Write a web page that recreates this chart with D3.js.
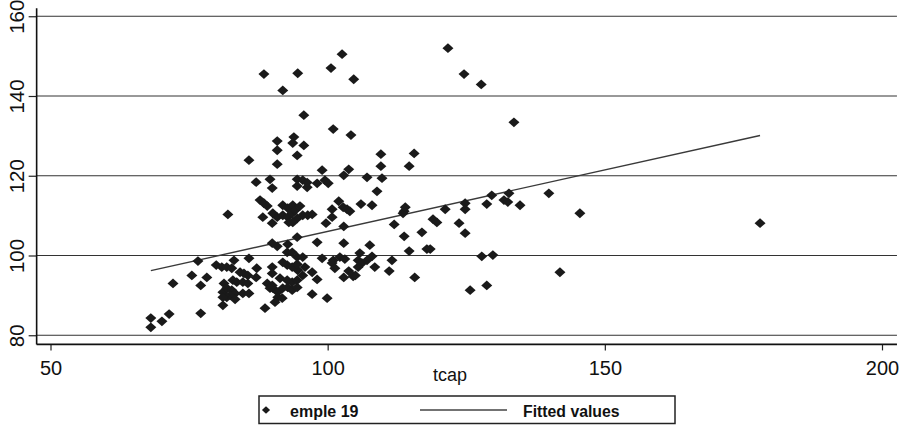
<!DOCTYPE html>
<html>
<head>
<meta charset="utf-8">
<script src="https://cdn.jsdelivr.net/npm/d3@7"></script>
<style>
  body { margin: 0; background: #fff; }
  svg { display: block; font-family: "Liberation Sans", Arial, sans-serif; }
</style>
</head>
<body>
<div id="chart"></div>
<script>
// values (tcap vs emple 19)
var tcap = [
  88.5, 94.6, 91.9, 100.6, 102.6, 104.7, 121.7, 124.6, 127.7,
  85.8, 90.9, 94.5, 90.9, 90.9, 93.9, 93.7, 95.7, 95.7, 101.0, 104.2, 99.0, 103.8, 102.9, 109.6, 109.6, 115.6, 114.7, 133.6,
  87.1, 89.6, 90.0, 94.5, 94.5, 87.8, 88.5, 89.1, 82.0, 88.3, 90.1, 90.9, 90.0, 91.9, 92.8, 93.7, 91.9, 92.8, 93.6, 94.1, 94.5, 93.0, 93.7, 94.5, 90.0, 90.9, 92.8, 92.7, 93.6,
  107.1, 109.8, 108.9, 95.5, 96.3, 96.3, 98.1, 99.5, 100.1, 102.0, 106.0, 108.0, 102.8, 103.5, 104.0, 100.8, 100.8, 99.7, 102.9, 112.0, 113.8, 113.6, 114.0, 119.0, 119.7, 113.8, 117.0, 98.1, 102.9, 107.6, 114.7, 117.9, 95.0, 95.5, 96.4, 97.2, 105.8,
  129.6, 132.7, 128.7, 131.8, 132.5, 134.7, 139.9, 145.5, 124.8, 124.8, 121.2, 123.7, 124.8, 178.0,
  127.8, 129.8, 141.9, 125.7, 128.7, 118.5,
  94.5, 95.5, 99.0, 101.0, 102.2, 103.1, 108.0, 105.5, 106.2, 107.1, 100.8, 101.3, 105.5, 108.5, 111.6, 111.1, 94.6, 95.9, 97.2, 95.5, 98.1, 102.9, 103.8, 104.6, 105.0, 97.2, 99.9, 115.7,
  68.1, 68.1, 70.1, 71.4, 72.1, 75.5, 76.6, 77.1, 77.1, 78.2, 79.9, 80.9, 81.8, 82.7, 83.1, 85.8, 84.2, 84.9, 85.6, 87.2, 90.0, 91.9, 92.7, 93.6, 94.5,
  87.1, 90.0, 91.4, 92.7, 93.6, 94.5, 81.3, 82.9, 83.6, 84.7, 85.6, 81.1, 81.8, 82.7, 83.3, 82.4, 81.8, 81.1, 84.7, 85.8, 83.3, 81.1,
  89.1, 90.0, 90.1, 89.6, 91.0, 91.9, 92.8, 93.6, 94.5, 91.0, 90.5, 91.8, 88.7
];
var emple19 = [
  145.5, 145.7, 141.4, 147.0, 150.5, 144.2, 152.0, 145.5, 142.9,
  123.9, 122.9, 125.1, 126.4, 128.7, 129.7, 128.2, 127.6, 135.2, 131.7, 130.2, 121.4, 121.6, 120.1, 125.4, 122.4, 125.6, 122.4, 133.4,
  118.4, 119.1, 116.9, 119.1, 117.4, 113.9, 113.1, 112.4, 110.3, 109.6, 110.6, 109.6, 108.1, 112.6, 111.9, 112.6, 110.1, 109.6, 110.6, 111.3, 109.3, 108.3, 108.3, 104.6, 103.1, 102.3, 102.8, 100.8, 100.8,
  119.6, 119.4, 116.1, 118.9, 117.1, 118.3, 118.1, 118.9, 118.1, 113.6, 112.9, 112.6, 112.1, 111.6, 111.1, 111.6, 109.6, 108.1, 107.3, 107.8, 111.1, 110.6, 112.1, 109.1, 108.3, 104.8, 105.8, 103.3, 103.1, 102.6, 101.1, 101.6, 112.4, 110.1, 110.1, 110.3, 100.6,
  115.1, 115.6, 112.9, 113.9, 113.4, 112.6, 115.6, 110.6, 113.1, 111.6, 111.6, 108.1, 105.6, 108.1,
  99.8, 100.1, 95.8, 91.3, 92.5, 101.6,
  99.6, 99.6, 99.3, 98.8, 99.6, 99.1, 99.8, 98.8, 98.1, 98.8, 98.1, 96.8, 97.1, 97.1, 98.8, 96.1, 96.3, 97.1, 95.8, 95.0, 94.0, 94.5, 96.1, 94.8, 95.0, 90.3, 89.3, 94.5,
  84.3, 82.0, 83.5, 85.3, 93.0, 95.0, 98.6, 92.5, 85.5, 94.5, 97.6, 97.1, 97.1, 96.8, 98.8, 99.3, 95.8, 95.5, 95.0, 96.8, 97.1, 98.3, 97.6, 97.1, 97.8,
  94.5, 95.5, 94.3, 93.8, 93.3, 93.8, 93.0, 93.8, 93.3, 93.3, 93.0, 90.8, 91.8, 91.3, 90.5, 90.0, 89.5, 89.5, 90.5, 90.5, 89.0, 87.5,
  93.0, 92.5, 91.8, 91.8, 90.8, 91.8, 92.0, 91.3, 92.0, 89.5, 88.3, 89.3, 86.8
];
var fitTcap = [68.1, 178.0];
var fitValues = [96.2, 130.1];
var xTicks = [50, 100, 150, 200];
var yTicks = [80, 100, 120, 140, 160];
var xTitle = "tcap";
var legendLabels = ["emple 19", "Fitted values"];

var width = 907, height = 426;
var svg = d3.select("#chart").append("svg")
  .attr("width", width)
  .attr("height", height);

var xScale = d3.scaleLinear().domain([50, 200]).range([50.5, 882]);
var yScale = d3.scaleLinear().domain([80, 160]).range([335.25, 16.25]);

var x0 = xScale(47.5), x1 = xScale(202.7);
var y0 = yScale(77.7), y1 = yScale(162);

// gridlines
svg.append("g").selectAll("line").data(yTicks).enter().append("line")
  .attr("x1", x0).attr("x2", x1)
  .attr("y1", function(d) { return yScale(d); })
  .attr("y2", function(d) { return yScale(d); })
  .attr("stroke", "#333").attr("stroke-width", 1);

// y axis
var yAxis = svg.append("g").attr("transform", "translate(" + x0 + ",0)")
  .call(d3.axisLeft(yScale).tickValues(yTicks).tickSize(8).tickFormat(d3.format("d")));
yAxis.select(".domain").remove();
yAxis.selectAll(".tick line").attr("stroke", "#222").attr("stroke-width", 1.2);
yAxis.selectAll(".tick text")
  .attr("font-size", 20.5).attr("fill", "#111")
  .attr("x", 0).attr("dy", 0)
  .attr("text-anchor", "middle")
  .attr("transform", "translate(-13,0) rotate(-90)");

// x axis
var xAxis = svg.append("g").attr("transform", "translate(0," + y0 + ")")
  .call(d3.axisBottom(xScale).tickValues(xTicks).tickSize(6).tickFormat(d3.format("d")));
xAxis.select(".domain").remove();
xAxis.selectAll(".tick line").attr("stroke", "#222").attr("stroke-width", 1.2);
xAxis.selectAll(".tick text")
  .attr("font-size", 20).attr("fill", "#111")
  .attr("y", 31).attr("dy", 0);

// frame lines
svg.append("line").attr("x1", x0).attr("x2", x0).attr("y1", y1).attr("y2", y0)
  .attr("stroke", "#111").attr("stroke-width", 1.6);
svg.append("line").attr("x1", x0).attr("x2", x1).attr("y1", y0).attr("y2", y0)
  .attr("stroke", "#111").attr("stroke-width", 1.8);

svg.append("text").attr("x", 450).attr("y", 381)
  .attr("text-anchor", "middle").attr("font-size", 18).attr("fill", "#111")
  .text(xTitle);

// diamond marker
function diamond(cx, cy) {
  return "M" + cx + "," + (cy - 4.9) + "L" + (cx + 5.5) + "," + cy + "L" + cx + "," + (cy + 4.9) + "L" + (cx - 5.5) + "," + cy + "Z";
}

var points = tcap.map(function(d, i) { return {x: d, y: emple19[i]}; });

// fitted line
var line = d3.line()
  .x(function(d) { return xScale(d); })
  .y(function(d, i) { return yScale(fitValues[i]); });
svg.append("path").datum(fitTcap)
  .attr("d", line)
  .attr("fill", "none").attr("stroke", "#3a3a3a").attr("stroke-width", 1.4);

svg.append("g").selectAll("path").data(points).enter().append("path")
  .attr("d", function(d) { return diamond(xScale(d.x), yScale(d.y)); })
  .attr("fill", "#1a1a1a");

// legend
var lg = svg.append("g");
lg.append("rect").attr("x", 259).attr("y", 396).attr("width", 416).attr("height", 27.5)
  .attr("fill", "#fff").attr("stroke", "#222").attr("stroke-width", 1.5);
lg.append("path").attr("d", diamond(266, 410)).attr("fill", "#1a1a1a").attr("transform", "translate(266,410) scale(0.75) translate(-266,-410)");
lg.append("text").attr("x", 290).attr("y", 416.5)
  .attr("font-size", 16).attr("font-weight", "bold").attr("fill", "#111")
  .text(legendLabels[0]);
lg.append("line").attr("x1", 420).attr("x2", 507).attr("y1", 410).attr("y2", 410)
  .attr("stroke", "#444").attr("stroke-width", 1.4);
lg.append("text").attr("x", 523).attr("y", 416.5)
  .attr("font-size", 15.8).attr("font-weight", "bold").attr("fill", "#111")
  .text(legendLabels[1]);
</script>
</body>
</html>
